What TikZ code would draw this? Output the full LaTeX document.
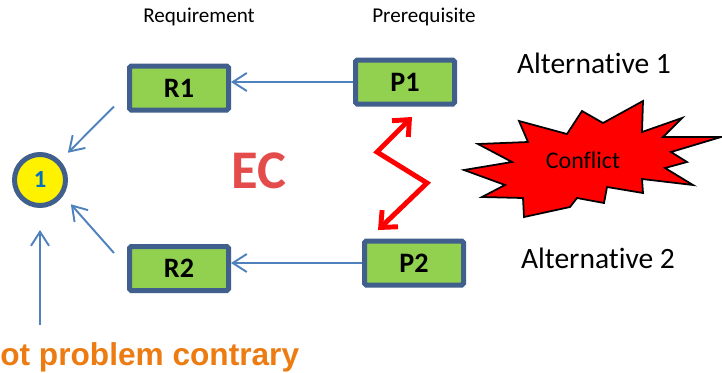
\documentclass[tikz,border=0pt]{standalone}
\usepackage{fontspec}
\setmainfont{Carlito}[Ligatures=NoCommon]
\newfontfamily\arialfont{Liberation Sans}
\usetikzlibrary{arrows.meta}

\definecolor{boxgreen}{RGB}{146,208,80}
\definecolor{boxblue}{RGB}{65,95,140}
\definecolor{linkblue}{RGB}{79,129,189}
\definecolor{numblue}{RGB}{0,112,192}
\definecolor{ecred}{RGB}{228,76,76}
\definecolor{rootorange}{RGB}{236,124,18}

\begin{document}
\begin{tikzpicture}[
	box/.style={draw=boxblue,fill=boxgreen,line width=0.1cm,rounded corners=1pt,
		minimum width=1.98cm,minimum height=0.88cm,font=\fontsize{16}{16}\selectfont\bfseries},
	link/.style={draw=linkblue,line width=1.1pt,-{Straight Barb[length=2.8mm,width=3.6mm]}},
	zig/.style={draw=red,line width=2.8pt,line join=miter,
		{Straight Barb[length=2.6mm,width=4.6mm]}-{Straight Barb[length=2.6mm,width=4.6mm]}}
	]
	\useasboundingbox (0,0) rectangle (14.44,-7.44);
	
	%BOXES
	\node[box] (R1) at (3.58,-1.76) {R1};
	\node[box] (P1) at (8.10,-1.64) {P1};
	\node[box] (R2) at (3.58,-5.37) {R2};
	\node[box] (P2) at (8.28,-5.26) {P2};
	\node[circle,draw=boxblue,fill=yellow,line width=0.1cm,minimum size=1.02cm,
		text=numblue,font=\fontsize{14}{14}\selectfont\bfseries] (one) at (0.8,-3.6) {1};
	
	%CONFLICT STAR
	\draw[fill=red,line width=1pt,line join=miter]
	(9.28,-3.40)--(10.24,-3.24)--(9.56,-2.88)--(10.56,-2.84)--(10.38,-2.42)--(11.34,-2.68)
	--(11.64,-2.22)--(12.06,-2.46)--(12.86,-2.02)--(12.84,-2.64)--(13.64,-2.36)--(13.26,-2.74)
	--(14.42,-2.74)--(13.42,-3.04)--(13.74,-3.24)--(13.30,-3.36)--(13.86,-3.70)--(12.84,-3.58)
	--(12.86,-3.86)--(12.14,-3.74)--(12.08,-4.06)--(11.54,-3.96)--(11.40,-4.14)--(10.48,-4.34)
	--(10.46,-3.96)--(9.64,-3.94)--(10.10,-3.70)--cycle;
	\node[font=\fontsize{13.6}{14}\selectfont] (conflict) at (11.66,-3.20) {Conflict};
	
	%ARROWS
	\draw[link] (P1.west) -- (P1.west -| R1.east);
	\draw[link] (P2.west) -- (P2.west -| R2.east);
	\draw[link,shorten >=0.22cm] ([shift={(-0.26,0.12)}]R1.south west) -- (one.44);
	\draw[link,shorten >=0.23cm] ([shift={(-0.26,-0.18)}]R2.north west) -- (one.-34);
	\coordinate (root) at (0.8,-6.5);
	\draw[link,shorten >=0.44cm] (root) -- (one.south);
	%
	\coordinate (zigA) at (8.24,-2.34);
	\coordinate (zigB) at (7.54,-3.04);
	\coordinate (zigC) at (8.54,-3.66);
	\coordinate (zigD) at (7.56,-4.60);
	\draw[zig] (zigA) -- (zigB) -- (zigC) -- (zigD);
	
	%LABELS
	\node[font=\fontsize{12}{12}\selectfont] (req) at (3.98,-0.34) {Requirement};
	\node[font=\fontsize{12}{12}\selectfont] (pre) at (8.48,-0.34) {Prerequisite};
	\node[font=\fontsize{16.8}{17}\selectfont] (alt1) at (11.88,-1.26) {Alternative 1};
	\node[font=\fontsize{16.8}{17}\selectfont] (alt2) at (11.96,-5.16) {Alternative 2};
	\node[text=ecred,font=\fontsize{31}{31}\selectfont\bfseries] (ec) at (5.18,-3.42) {EC};
	\node[anchor=base west,inner sep=0pt,text=rootorange,
		font=\arialfont\fontsize{18}{18}\selectfont\bfseries] (rootlbl) at (0,-7.30) {ot problem contrary};
	
	%\draw[help lines] (0,-7.44) grid (14.44,0);
\end{tikzpicture}
\end{document}
